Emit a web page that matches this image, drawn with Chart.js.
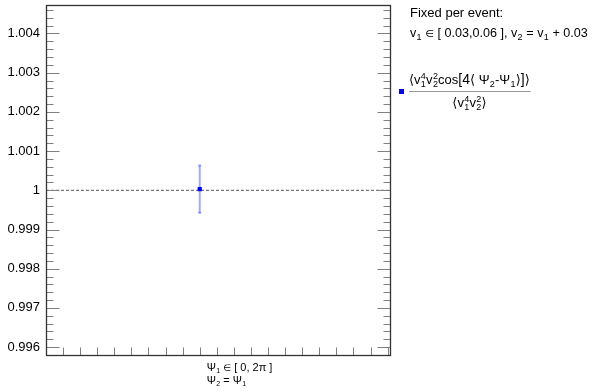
<!DOCTYPE html>
<html>
<head>
<meta charset="utf-8">
<script src="https://cdn.jsdelivr.net/npm/chart.js@4.4.0/dist/chart.umd.min.js"></script>
<style>
body{margin:0;background:#fff}
</style>
</head>
<body>
<canvas id="c" width="593" height="392"></canvas>
<script>
const categories=["Ψ1 ∈ [0,2π], Ψ2 = Ψ1"]
const binPos=[9]
const values=[1.00003]
const errors=[0.0006]
const refLevel=1
const yTicks=[0.996,0.997,0.998,0.999,1,1.001,1.002,1.003,1.004]
const yMin=0.995773
const yMax=1.004727
const xMin=0
const xMax=20.2

const FONT="'Liberation Sans','DejaVu Sans',sans-serif"

// draws text with sub/superscripts, returns width
function rich(ctx,x,y,parts,size,draw){
    let w=0
    for (let p of parts){
        if (typeof p==="string"){
            ctx.font=size+"px "+FONT
            if (draw) ctx.fillText(p,x+w,y)
            w+=ctx.measureText(p).width
        }
        else if (p.t){
            ctx.font=p.size+"px "+FONT
            if (draw) ctx.fillText(p.t,x+w,y)
            w+=ctx.measureText(p.t).width
        }
        else{
            let s=Math.round(size*0.68)
            ctx.font=s+"px "+FONT
            let ws=p.sub?ctx.measureText(p.sub).width:0
            let wp=p.sup?ctx.measureText(p.sup).width:0
            if (draw){
                if (p.sub) ctx.fillText(p.sub,x+w+0.3,y+size*0.22)
                if (p.sup) ctx.fillText(p.sup,x+w+0.3,y-size*0.42)
            }
            w+=Math.max(ws,wp)+0.5
        }
    }
    return w
}

const extras={
    id:"extras",
    beforeDatasetsDraw(chart){
        const ctx=chart.ctx
        const xs=chart.scales.x, ys=chart.scales.y
        ctx.save()
        ctx.strokeStyle="rgba(0,0,255,0.35)"
        ctx.lineWidth=2
        binPos.forEach((b,i)=>{
            let px=xs.getPixelForValue(b)
            let top=ys.getPixelForValue(values[i]+errors[i])
            let bot=ys.getPixelForValue(values[i]-errors[i])
            ctx.beginPath()
            ctx.moveTo(px,top)
            ctx.lineTo(px,bot)
            ctx.stroke()
            ctx.beginPath()
            ctx.moveTo(px-1.5,top);ctx.lineTo(px+1.5,top)
            ctx.moveTo(px-1.5,bot);ctx.lineTo(px+1.5,bot)
            ctx.stroke()
        })
        ctx.restore()
    },
    afterDraw(chart){
        const ctx=chart.ctx
        const a=chart.chartArea
        const xs=chart.scales.x, ys=chart.scales.y
        let L=Math.round(a.left)+0.5, R=Math.round(a.right)-0.5
        let T=Math.round(a.top)+0.5, B=Math.round(a.bottom)-0.5
        ctx.save()
        //ticks
        ctx.strokeStyle="#808080"
        ctx.lineWidth=1
        ctx.beginPath()
        for (let k=Math.ceil(yMin/0.0002);k<=Math.floor(yMax/0.0002);k++){
            let py=Math.round(ys.getPixelForValue(k*0.0002))+0.5
            let len=(k%5==0)?13:7
            ctx.moveTo(L,py);ctx.lineTo(L+len,py)
            ctx.moveTo(R,py);ctx.lineTo(R-len,py)
        }
        for (let k=1;k<=Math.floor(xMax);k++){
            let px=Math.round(xs.getPixelForValue(k))+0.5
            ctx.moveTo(px,B);ctx.lineTo(px,B-8)
        }
        ctx.stroke()
        //frame
        ctx.strokeStyle="#333"
        ctx.lineWidth=1.3
        ctx.strokeRect(L,T,R-L,B-T)

        //bin label
        ctx.fillStyle="#000"
        ctx.textBaseline="alphabetic"
        ctx.textAlign="left"
        let lx=xs.getPixelForValue(binPos[0])+7
        rich(ctx,lx,371,["Ψ",{sub:"1"}," ",{t:"∈",size:9}," [ 0, 2π ]"],11,true)
        rich(ctx,lx,384,["Ψ",{sub:"2"}," = Ψ",{sub:"1"}],11,true)

        //legend
        rich(ctx,410,17,["Fixed per event:"],13,true)
        rich(ctx,410,37,["v",{sub:"1"}," ",{t:"∈",size:10}," [ 0.03,0.06 ], v",{sub:"2"}," = v",{sub:"1"}," + 0.03"],12.6,true)
        let num=["⟨v",{sub:"1",sup:"4"},"v",{sub:"2",sup:"2"},"cos",{t:"[4",size:14},"⟨ Ψ",{sub:"2"},"-Ψ",{sub:"1"},"⟩",{t:"]",size:14},"⟩"]
        let den=["⟨v",{sub:"1",sup:"4"},"v",{sub:"2",sup:"2"},"⟩"]
        let wn=rich(ctx,0,0,num,13,false)
        let wd=rich(ctx,0,0,den,13,false)
        let fx=409
        rich(ctx,fx,84,num,13,true)
        rich(ctx,fx+(wn-wd)/2,107,den,13,true)
        ctx.strokeStyle="#999"
        ctx.lineWidth=1
        ctx.beginPath()
        ctx.moveTo(fx,91.5);ctx.lineTo(fx+wn+1,91.5)
        ctx.stroke()
        ctx.fillStyle="#0000ff"
        ctx.fillRect(399,89,5,5)
        ctx.restore()
    }
}

new Chart(document.getElementById("c"),{
    type:"scatter",
    data:{
        labels:categories,
        datasets:[
            {
                label:"ratio",
                data:binPos.map((b,i)=>({x:b,y:values[i]})),
                pointStyle:"rect",
                pointRadius:3,
                backgroundColor:"#0000ff",
                borderColor:"#0000ff",
                borderWidth:0,
                order:1
            },
            {
                type:"line",
                label:"ref",
                data:[{x:xMin,y:refLevel},{x:xMax,y:refLevel}],
                borderColor:"#555",
                borderWidth:1,
                borderDash:[3,2],
                pointRadius:0,
                order:2
            }
        ]
    },
    options:{
        responsive:false,
        animation:false,
        layout:{padding:{top:5,right:202,bottom:36,left:0}},
        plugins:{legend:{display:false},tooltip:{enabled:false}},
        scales:{
            x:{type:"linear",min:xMin,max:xMax,display:false},
            y:{
                type:"linear",
                min:yMin,
                max:yMax,
                afterBuildTicks:s=>{s.ticks=yTicks.map(v=>({value:v}))},
                afterFit:s=>{s.width=46;s.paddingTop=0;s.paddingBottom=0},
                grid:{display:false,drawTicks:false},
                border:{display:false},
                ticks:{
                    color:"#000",
                    padding:6,
                    font:{family:FONT,size:13},
                    callback:v=>String(+v.toFixed(3))
                }
            }
        }
    },
    plugins:[extras]
})
</script>
</body>
</html>
